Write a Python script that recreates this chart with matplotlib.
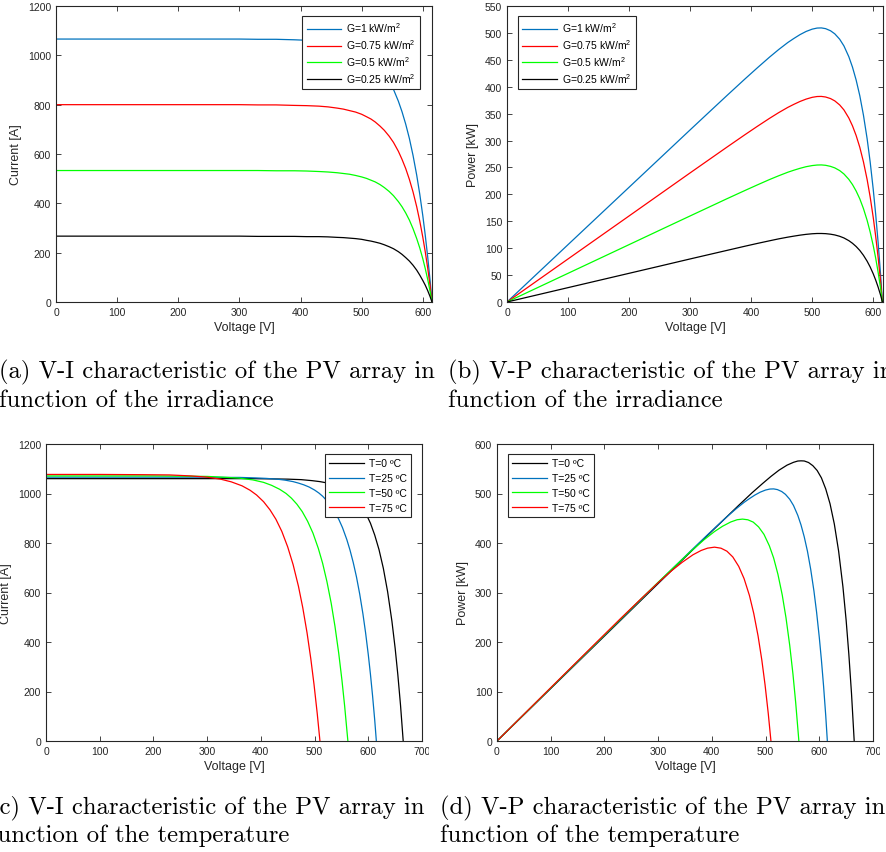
import matplotlib.pyplot as plt
from matplotlib.transforms import Bbox, TransformedBbox


# Irradiance sweep at T=25 ºC (panels a and b)
v_g = [0, 100, 200, 250, 300, 330, 360, 390, 410, 430, 445, 460, 470, 480, 490, 500, 508, 515,
       522, 530, 537, 545, 552, 560, 566, 572, 578, 584, 590, 595, 600, 604, 608, 612, 615]
i_g100 = [1066, 1066, 1066, 1066, 1066, 1065, 1065, 1063, 1061, 1058, 1054, 1048, 1042, 1035, 1026, 1014, 1002, 989,
          973, 951, 928, 896, 862, 814, 771, 721, 663, 594, 514, 437, 349, 270, 182, 84, 0]
i_g075 = [800, 800, 800, 800, 800, 799, 799, 797, 796, 794, 791, 786, 782, 776, 770, 761, 751, 742,
          730, 713, 696, 672, 647, 611, 578, 541, 497, 446, 386, 328, 262, 203, 137, 63, 0]
i_g050 = [533, 533, 533, 533, 533, 533, 532, 532, 531, 529, 527, 524, 521, 518, 513, 507, 501, 494,
          487, 476, 464, 448, 431, 407, 386, 361, 332, 297, 257, 219, 175, 135, 91, 42, 0]
i_g025 = [267, 267, 267, 267, 267, 266, 266, 266, 265, 265, 264, 262, 261, 259, 257, 254, 250, 247,
          243, 238, 232, 224, 216, 204, 193, 180, 166, 149, 129, 109, 87, 68, 46, 21, 0]
p_g100 = [0, 106.6, 213.2, 266.5, 319.8, 351.6, 383.3, 414.6, 435.0, 454.9, 469.0, 482.1, 489.7, 496.8, 502.7, 507.0, 509.0, 509.3,
          507.9, 504.0, 498.3, 488.3, 475.8, 455.8, 436.4, 412.4, 383.2, 346.9, 303.3, 260.0, 209.4, 163.1, 110.7, 51.4, 0]
p_g075 = [0, 80.0, 159.9, 199.9, 239.9, 263.7, 287.5, 311.0, 326.3, 341.2, 351.8, 361.6, 367.3, 372.6, 377.0, 380.3, 381.8, 382.0,
          380.9, 378.0, 373.7, 366.2, 356.9, 341.9, 327.3, 309.3, 287.4, 260.2, 227.5, 195.0, 157.1, 122.3, 83.0, 38.6, 0]
p_g050 = [0, 53.3, 106.6, 133.3, 159.9, 175.8, 191.7, 207.3, 217.5, 227.5, 234.5, 241.1, 244.9, 248.4, 251.4, 253.5, 254.5, 254.7,
          254.0, 252.0, 249.2, 244.2, 237.9, 227.9, 218.2, 206.2, 191.6, 173.5, 151.7, 130.0, 104.7, 81.6, 55.4, 25.7, 0]
p_g025 = [0, 26.7, 53.3, 66.6, 80.0, 87.9, 95.8, 103.7, 108.8, 113.7, 117.3, 120.5, 122.4, 124.2, 125.7, 126.8, 127.3, 127.3,
          127.0, 126.0, 124.6, 122.1, 119.0, 114.0, 109.1, 103.1, 95.8, 86.7, 75.8, 65.0, 52.4, 40.8, 27.7, 12.9, 0]
g_labels = ["G=1 kW/m$^2$", "G=0.75 kW/m$^2$", "G=0.5 kW/m$^2$", "G=0.25 kW/m$^2$"]

# Temperature sweep at G=1 kW/m2 (panels c and d); T=25 ºC is the G=1 curve above
v_t00 = [0, 100, 200, 300, 380, 420, 450, 475, 495, 510, 525, 540, 552, 560, 566, 572, 580, 588, 596, 604,
         612, 620, 628, 636, 644, 650, 655, 660, 665]
i_t00 = [1060, 1060, 1060, 1060, 1060, 1059, 1058, 1056, 1052, 1048, 1042, 1032, 1020, 1010, 1000, 989, 970, 946, 917, 880,
         832, 773, 698, 603, 484, 375, 268, 145, 0]
p_t00 = [0, 106.0, 212.0, 318.0, 402.8, 444.8, 476.1, 501.6, 520.7, 534.5, 547.1, 557.3, 563.0, 565.6, 566.0, 565.7, 562.6, 556.2, 546.5, 531.5,
         509.2, 479.3, 438.3, 383.5, 311.7, 243.8, 175.5, 95.7, 0]
v_t50 = [0, 100, 200, 260, 300, 330, 360, 385, 405, 420, 435, 447, 457, 467, 477, 487, 497, 507, 515,
         523, 531, 538, 545, 551, 556, 562]
i_t50 = [1071, 1071, 1071, 1070, 1069, 1066, 1062, 1055, 1045, 1033, 1017, 1000, 981, 957, 927, 888, 840, 778, 718,
         644, 556, 463, 354, 245, 141, 0]
p_t50 = [0, 107.1, 214.2, 278.2, 320.7, 351.8, 382.3, 406.2, 423.2, 433.9, 442.4, 447.0, 448.3, 446.9, 442.2, 432.5, 417.5, 394.4, 369.8,
         336.8, 295.2, 249.1, 192.9, 135.0, 78.4, 0]
v_t75 = [0, 100, 180, 230, 270, 300, 325, 345, 365, 380, 392, 405, 417, 428, 439, 450, 460, 470, 478,
         486, 493, 499, 505, 510]
i_t75 = [1077, 1077, 1076, 1075, 1071, 1066, 1058, 1047, 1031, 1013, 994, 967, 934, 896, 847, 784, 713, 625, 539,
         437, 332, 228, 110, 0]
p_t75 = [0, 107.7, 193.7, 247.3, 289.2, 319.8, 343.9, 361.2, 376.3, 384.9, 389.6, 391.6, 389.5, 383.5, 371.8, 352.8, 328.0, 293.8, 257.6,
         212.4, 163.7, 113.8, 55.6, 0]
t_labels = ["T=0 ºC", "T=25 ºC", "T=50 ºC", "T=75 ºC"]

captions = [
    ("(a) V-I characteristic of the PV array in", "function of the irradiance"),
    ("(b) V-P characteristic of the PV array in", "function of the irradiance"),
    ("(c) V-I characteristic of the PV array in", "function of the temperature"),
    ("(d) V-P characteristic of the PV array in", "function of the temperature"),
]

## matlab-like colours and fonts
mblue = (0, 0.447, 0.741)
gray = "#262626"
plt.rcParams["font.family"] = "Liberation Sans"
plt.rcParams["axes.linewidth"] = 0.8
plt.rcParams["axes.edgecolor"] = gray
plt.rcParams["xtick.color"] = gray
plt.rcParams["ytick.color"] = gray
plt.rcParams["xtick.direction"] = "in"
plt.rcParams["ytick.direction"] = "in"
plt.rcParams["xtick.top"] = True
plt.rcParams["ytick.right"] = True
plt.rcParams["xtick.labelsize"] = 7.5
plt.rcParams["ytick.labelsize"] = 7.5
plt.rcParams["xtick.major.size"] = 3.5
plt.rcParams["ytick.major.size"] = 3.5
plt.rcParams["xtick.major.width"] = 0.6
plt.rcParams["ytick.major.width"] = 0.6
plt.rcParams["mathtext.fontset"] = "custom"
plt.rcParams["mathtext.rm"] = "Liberation Sans"

W, H = 886, 853
fig = plt.figure(figsize=(W / 100, H / 100), dpi=100)


def px_axes(left, top, right, bottom):
    return fig.add_axes([left / W, 1 - bottom / H, (right - left) / W, (bottom - top) / H])


def style(ax, xlim, ylim, yticks, ylabel, xticks):
    ax.set_xlim(xlim)
    ax.set_ylim(ylim)
    ax.set_xticks(xticks)
    ax.set_yticks(yticks)
    ax.set_xlabel("Voltage [V]", fontsize=9, color=gray, labelpad=3)
    ax.set_ylabel(ylabel, fontsize=9, color=gray, labelpad=4)


def legend(ax, loc, anchor, spacing):
    leg = ax.legend(loc=loc, bbox_to_anchor=anchor, fontsize=7.5, fancybox=False,
                    framealpha=1, edgecolor=gray, handlelength=3.3, handletextpad=0.5,
                    labelspacing=spacing, borderpad=0.42, borderaxespad=0)
    leg.get_frame().set_linewidth(0.8)


lw = 0.9

## (a) V-I, irradiance
ax = px_axes(56, 7, 432, 303)
for i, c, lab in zip([i_g100, i_g075, i_g050, i_g025], [mblue, "r", "#00ff00", "k"], g_labels):
    ax.plot(v_g, i, color=c, lw=lw, label=lab)
style(ax, (0, 615), (0, 1200), range(0, 1201, 200), "Current [A]", range(0, 601, 100))
legend(ax, "upper right", (0.968, 0.966), 0.3)

## (b) V-P, irradiance
ax = px_axes(507, 7, 883, 303)
for p, c, lab in zip([p_g100, p_g075, p_g050, p_g025], [mblue, "r", "#00ff00", "k"], g_labels):
    ax.plot(v_g, p, color=c, lw=lw, label=lab)
style(ax, (0, 616), (0, 550), range(0, 551, 50), "Power [kW]", range(0, 601, 100))
legend(ax, "upper left", (0.029, 0.966), 0.3)

## (c) V-I, temperature
ax_c = px_axes(46, 445, 422, 742)
for v, i, c, lab in zip([v_t00, v_g, v_t50, v_t75], [i_t00, i_g100, i_t50, i_t75],
                        ["k", mblue, "#00ff00", "r"], t_labels):
    ax_c.plot(v, i, color=c, lw=lw, label=lab)
style(ax_c, (0, 700), (0, 1200), range(0, 1201, 200), "Current [A]", range(0, 701, 100))
legend(ax_c, "upper right", (0.971, 0.966), 0.45)

## (d) V-P, temperature
ax_d = px_axes(497, 445, 873, 742)
for v, p, c, lab in zip([v_t00, v_g, v_t50, v_t75], [p_t00, p_g100, p_t50, p_t75],
                        ["k", mblue, "#00ff00", "r"], t_labels):
    ax_d.plot(v, p, color=c, lw=lw, label=lab)
style(ax_d, (0, 700), (0, 600), range(0, 601, 100), "Power [kW]", range(0, 701, 100))
legend(ax_d, "upper left", (0.029, 0.966), 0.45)

## the sub-figures were cropped: the "700" labels are cut on the right
for ax, cut in [(ax_c, 429), (ax_d, 880)]:
    lab = ax.get_xticklabels()[-1]
    lab.set_clip_box(TransformedBbox(Bbox.from_extents(0, 0, cut / W, 1), fig.transFigure))
    lab.set_clip_on(True)

## LaTeX-style captions under each panel
cap_pos = [(-1, 372, 401), (448, 372, 401), (-10, 808, 836), (440, 808, 836)]
for (l1, l2), (x, y1, y2) in zip(captions, cap_pos):
    fig.text(x / W, 1 - y1 / H, l1, family="cmr10", fontsize=17.8, va="center", ha="left")
    fig.text(x / W, 1 - y2 / H, l2, family="cmr10", fontsize=17.8, va="center", ha="left")

plt.savefig("out.png", dpi=100)
